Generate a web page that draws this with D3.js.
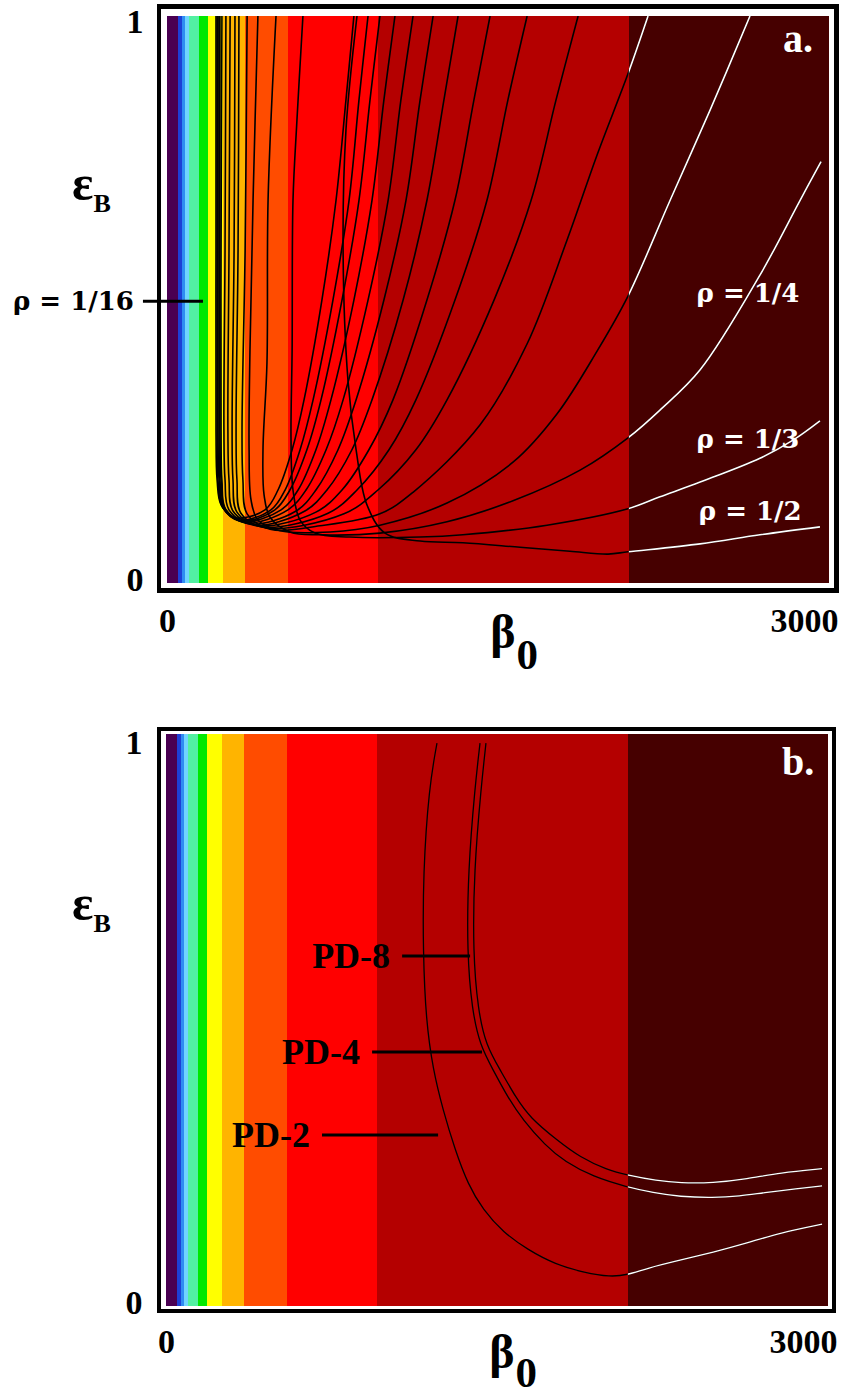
<!DOCTYPE html>
<html><head><meta charset="utf-8">
<script src="https://cdn.jsdelivr.net/npm/d3@7/dist/d3.min.js"></script>
<style>html,body{margin:0;padding:0;background:#fff;}svg{display:block;}</style>
</head><body>
<script>
// ---------------- data ----------------
const betaDomain = [0, 3000];
const epsDomain = [0, 1];
const xTickValues = [0, 3000];
const yTickValues = [0, 1];

// colour bands along beta0
const bandEdges = [0, 52, 66, 80, 100, 143, 186, 254, 353, 548, 956, 2093, 3000];
const bandColors = ["#4a0052", "#1d3fd6", "#2f8cf2", "#70d4ff", "#52f0a2", "#00e800",
                    "#ffff00", "#ffb400", "#ff4c00", "#ff0000", "#b40000", "#460000"];
const darkStart = 2093;

// panel a: rho = 1/n contours  [beta0, epsB]
const rho_1_16 = [[222,1],[222,.587],[222,.270],[227,.182],[245,.138],[308,.115],[444,.129],[503,.164],[567,.235],[621,.323],[702,.499],[766,.675],[811,.852],[847,1]];
const rho_1_15 = [[227,1],[227,.587],[227,.270],[231,.182],[249,.136],[322,.111],[471,.129],[535,.164],[603,.235],[662,.323],[752,.499],[825,.675],[870,.852],[911,1]];
const rho_1_14 = [[231,1],[231,.587],[231,.270],[236,.182],[254,.134],[331,.109],[489,.129],[557,.164],[634,.235],[698,.323],[793,.499],[870,.675],[920,.852],[965,1]];
const rho_1_13 = [[236,1],[236,.587],[236,.270],[240,.182],[258,.132],[344,.108],[517,.129],[594,.164],[675,.235],[743,.323],[847,.499],[929,.675],[983,.852],[1033,1]];
const rho_1_12 = [[240,1],[240,.587],[240,.270],[245,.182],[263,.131],[358,.106],[548,.129],[630,.164],[721,.235],[798,.323],[911,.499],[1002,.675],[1060,.852],[1115,1]];
const rho_1_11 = [[249,1],[245,.587],[245,.270],[249,.182],[267,.129],[376,.104],[585,.127],[675,.164],[775,.235],[857,.323],[983,.499],[1083,.675],[1147,.852],[1206,1]];
const rho_1_10 = [[267,1],[263,.587],[258,.270],[263,.182],[281,.129],[394,.102],[625,.127],[725,.164],[838,.235],[929,.323],[1070,.499],[1178,.675],[1255,.852],[1319,1]];
const rho_1_9  = [[286,1],[281,.587],[276,.270],[281,.182],[299,.127],[412,.101],[675,.125],[793,.164],[915,.235],[1024,.323],[1178,.499],[1305,.675],[1391,.852],[1464,1]];
const rho_1_8  = [[308,1],[304,.587],[295,.270],[299,.182],[317,.125],[431,.099],[730,.123],[861,.164],[1006,.235],[1128,.323],[1305,.499],[1450,.675],[1545,.852],[1632,1]];
const rho_1_7  = [[326,1],[322,.587],[313,.270],[317,.182],[335,.123],[449,.097],[802,.122],[956,.164],[1128,.235],[1269,.323],[1482,.499],[1650,.675],[1763,.852],[1863,1]];
const rho_1_6  = [[363,1],[354,.587],[340,.270],[344,.182],[363,.122],[467,.095],[693,.101],[965,.122],[1115,.160],[1419,.279],[1632,.422],[1813,.605],[1949,.755],[2089,.898],[2180,1]];
const rho_1_5  = [[412,1],[390,.675],[376,.411],[372,.235],[381,.146],[412,.111],[512,.092],[739,.090],[965,.102],[1269,.141],[1568,.213],[1767,.298],[1949,.409],[2089,.506],[2280,.675],[2461,.834],[2642,1]];
const rho_1_4  = [[494,1],[458,.675],[453,.388],[435,.235],[440,.155],[467,.116],[557,.090],[693,.085],[965,.088],[1269,.108],[1568,.145],[1872,.199],[2089,.256],[2234,.305],[2416,.376],[2687,.543],[2869,.675],[2964,.743]];
const rho_1_3  = [[616,1],[589,.817],[571,.675],[567,.411],[562,.252],[571,.164],[603,.111],[671,.088],[829,.081],[1147,.081],[1341,.085],[1722,.102],[2089,.131],[2234,.152],[2416,.178],[2687,.220],[2837,.252],[2959,.286]];
const rho_1_2  = [[861,1],[811,.799],[798,.587],[820,.358],[857,.235],[906,.138],[988,.088],[1147,.074],[1341,.071],[1600,.063],[1826,.056],[1999,.051],[2089,.055],[2416,.069],[2687,.085],[2959,.099]];
const rhoCurves = [rho_1_16, rho_1_15, rho_1_14, rho_1_13, rho_1_12, rho_1_11, rho_1_10, rho_1_9,
                   rho_1_8, rho_1_7, rho_1_6, rho_1_5, rho_1_4, rho_1_3, rho_1_2];
const rhoLabelText = ["\u03c1 = 1/4", "\u03c1 = 1/3", "\u03c1 = 1/2"];
const rhoLabelBeta = [2400, 2400, 2410];
const rhoLabelEps  = [0.496, 0.238, 0.111];
const rhoPointer = {text: "\u03c1 = 1/16", from: -109, to: 163, eps: 0.497};

// panel b: period-doubling curves
const pd2 = [[1228,.984],[1192,.907],[1165,.757],[1165,.617],[1178,.500],[1210,.413],[1255,.343],[1310,.273],[1369,.212],[1437,.168],[1527,.129],[1641,.098],[1763,.073],[1899,.058],[2012,.051],[2089,.054],[2180,.066],[2329,.080],[2479,.094],[2633,.110],[2783,.128],[2973,.143]];
const pd4 = [[1423,.984],[1400,.907],[1369,.762],[1364,.617],[1387,.517],[1423,.456],[1482,.413],[1550,.364],[1618,.325],[1718,.281],[1808,.252],[1935,.226],[2089,.208],[2207,.198],[2329,.191],[2479,.189],[2601,.192],[2706,.198],[2860,.205],[2973,.210]];
const pd8 = [[1450,.984],[1428,.907],[1396,.762],[1391,.617],[1414,.517],[1450,.456],[1514,.413],[1586,.364],[1650,.329],[1772,.290],[1876,.260],[1999,.238],[2089,.229],[2225,.219],[2329,.215],[2479,.215],[2633,.222],[2783,.233],[2973,.240]];
const pdCurves = [pd2, pd4, pd8];
const pdLabelText = ["PD-8", "PD-4", "PD-2"];
const pdLabelFrom = [1070, 934, 707];
const pdLabelTo   = [1378, 1432, 1233];
const pdLabelEps  = [0.612, 0.444, 0.299];

// ---------------- drawing ----------------
const W = 842, H = 1395;
const SERIF = "'Liberation Serif','Times New Roman',serif";
const WIDE = "'DejaVu Serif',serif";
const svg = d3.select("body").append("svg").attr("width", W).attr("height", H);
const defs = svg.append("defs");

function drawPanel(o) {
  const x = d3.scaleLinear(betaDomain, [o.x0, o.x1]);
  const y = d3.scaleLinear(epsDomain, [o.y1, o.y0]);
  const g = svg.append("g");

  // frame
  g.append("rect").attr("x", o.x0 - o.outer[0]).attr("y", o.y0 - o.outer[1])
    .attr("width", o.x1 + o.outer[2] - (o.x0 - o.outer[0]))
    .attr("height", o.y1 + o.outer[3] - (o.y0 - o.outer[1])).attr("fill", "#000");
  g.append("rect").attr("x", o.x0 - o.inner[0]).attr("y", o.y0 - o.inner[1])
    .attr("width", o.x1 + o.inner[2] - (o.x0 - o.inner[0]))
    .attr("height", o.y1 + o.inner[3] - (o.y0 - o.inner[1])).attr("fill", "#fff");

  // clips
  defs.append("clipPath").attr("id", "plot" + o.id).append("rect")
    .attr("x", o.x0).attr("y", o.y0).attr("width", o.x1 - o.x0).attr("height", o.y1 - o.y0);
  defs.append("clipPath").attr("id", "dark" + o.id).append("rect")
    .attr("x", x(darkStart)).attr("y", o.y0).attr("width", o.x1 - x(darkStart)).attr("height", o.y1 - o.y0);

  // bands
  g.append("g").selectAll("rect").data(d3.pairs(bandEdges)).enter().append("rect")
    .attr("x", d => x(d[0])).attr("width", d => x(d[1]) - x(d[0]))
    .attr("y", o.y0).attr("height", o.y1 - o.y0)
    .attr("fill", (d, i) => bandColors[i]).attr("shape-rendering", "crispEdges");

  // curves: black everywhere, white over the darkest band
  const line = d3.line().x(d => x(d[0])).y(d => y(d[1])).curve(o.curveType);
  g.append("g").attr("clip-path", `url(#plot${o.id})`).selectAll("path").data(o.curves).enter()
    .append("path").attr("d", line).attr("fill", "none").attr("stroke", "#000").attr("stroke-width", o.sw);
  g.append("g").attr("clip-path", `url(#dark${o.id})`).selectAll("path").data(o.curves).enter()
    .append("path").attr("d", line).attr("fill", "none").attr("stroke", "#fff").attr("stroke-width", o.sw);

  // axes (tick labels only)
  const xa = g.append("g").attr("transform", `translate(0,${o.y1})`)
    .call(d3.axisBottom(x).tickValues(xTickValues).tickSize(0).tickFormat(d3.format("d")));
  xa.select(".domain").remove();
  xa.selectAll("text").attr("dy", 0).attr("y", o.xTickDy)
    .attr("font-family", SERIF).attr("font-weight", "bold").attr("font-size", 34).attr("fill", "#000")
    .attr("text-anchor", d => d === 3000 ? "end" : "middle").attr("x", d => d === 3000 ? 9 : 0);
  const ya = g.append("g").attr("transform", `translate(${o.x0},0)`)
    .call(d3.axisLeft(y).tickValues(yTickValues).tickSize(0).tickFormat(d3.format("d")));
  ya.select(".domain").remove();
  ya.selectAll("text").attr("dy", 0).attr("x", -32).attr("text-anchor", "middle")
    .attr("y", d => d === 1 ? o.yTop : o.yBot)
    .attr("font-family", SERIF).attr("font-weight", "bold").attr("font-size", 34).attr("fill", "#000");

  // axis titles
  const bt = g.append("text").attr("x", x(1465)).attr("y", o.y1 + o.betaDy)
    .attr("font-family", SERIF).attr("font-weight", "bold").attr("fill", "#000");
  bt.append("tspan").attr("font-size", 48).text("\u03b2");
  bt.append("tspan").attr("font-size", 43).attr("dy", o.subDy).attr("dx", 1).text("0");
  const et = g.append("text").attr("x", 72).attr("y", o.y0 + o.epsDy)
    .attr("font-family", SERIF).attr("font-weight", "bold").attr("fill", "#000");
  et.append("tspan").attr("font-size", 50).text("\u03b5");
  et.append("tspan").attr("font-size", 26).attr("dy", 12).attr("dx", 0).text("B");

  // panel letter
  g.append("text").attr("x", o.x1 - 46).attr("y", o.y0 + o.letterDy)
    .attr("font-family", SERIF).attr("font-weight", "bold").attr("font-size", 40)
    .attr("fill", "#fff").text(o.letter);
  return {x, y, g};
}

// panel a
const A = drawPanel({id: "a", x0: 167, x1: 829, y0: 16, y1: 583,
  outer: [10, 12, 10, 10], inner: [6, 7, 5, 5], curves: rhoCurves, sw: 1.6,
  curveType: d3.curveCatmullRom.alpha(0.5),
  xTickDy: 49, yTop: 16, yBot: 7, betaDy: 65, subDy: 21, epsDy: 184, letter: "a.", letterDy: 36});

A.g.selectAll("text.rho").data(rhoLabelText).enter().append("text").attr("class", "rho")
  .attr("x", (d, i) => A.x(rhoLabelBeta[i])).attr("y", (d, i) => A.y(rhoLabelEps[i]))
  .attr("font-family", WIDE).attr("font-weight", "bold").attr("font-size", 26).attr("fill", "#fff")
  .text(d => d);
A.g.append("line").attr("x1", A.x(rhoPointer.from)).attr("x2", A.x(rhoPointer.to))
  .attr("y1", A.y(rhoPointer.eps)).attr("y2", A.y(rhoPointer.eps))
  .attr("stroke", "#000").attr("stroke-width", 3);
A.g.append("text").attr("x", A.x(rhoPointer.from) - 9).attr("y", A.y(rhoPointer.eps) + 9)
  .attr("text-anchor", "end").attr("font-family", WIDE).attr("font-weight", "bold")
  .attr("font-size", 26).attr("fill", "#000").text(rhoPointer.text);

// panel b
const B = drawPanel({id: "b", x0: 166, x1: 828, y0: 734, y1: 1306,
  outer: [9, 7, 8, 7], inner: [5, 3, 4, 3], curves: pdCurves, sw: 1.3,
  curveType: d3.curveBasis,
  xTickDy: 47, yTop: 19, yBot: 7, betaDy: 62, subDy: 19, epsDy: 186, letter: "b.", letterDy: 41});

B.g.selectAll("line.pd").data(pdLabelText).enter().append("line").attr("class", "pd")
  .attr("x1", (d, i) => B.x(pdLabelFrom[i])).attr("x2", (d, i) => B.x(pdLabelTo[i]))
  .attr("y1", (d, i) => B.y(pdLabelEps[i])).attr("y2", (d, i) => B.y(pdLabelEps[i]))
  .attr("stroke", "#000").attr("stroke-width", 3);
B.g.selectAll("text.pd").data(pdLabelText).enter().append("text").attr("class", "pd")
  .attr("x", (d, i) => B.x(pdLabelFrom[i]) - 12).attr("y", (d, i) => B.y(pdLabelEps[i]) + 12)
  .attr("text-anchor", "end").attr("font-family", SERIF).attr("font-weight", "bold")
  .attr("font-size", 36).attr("fill", "#000").text(d => d);
</script>
</body></html>
